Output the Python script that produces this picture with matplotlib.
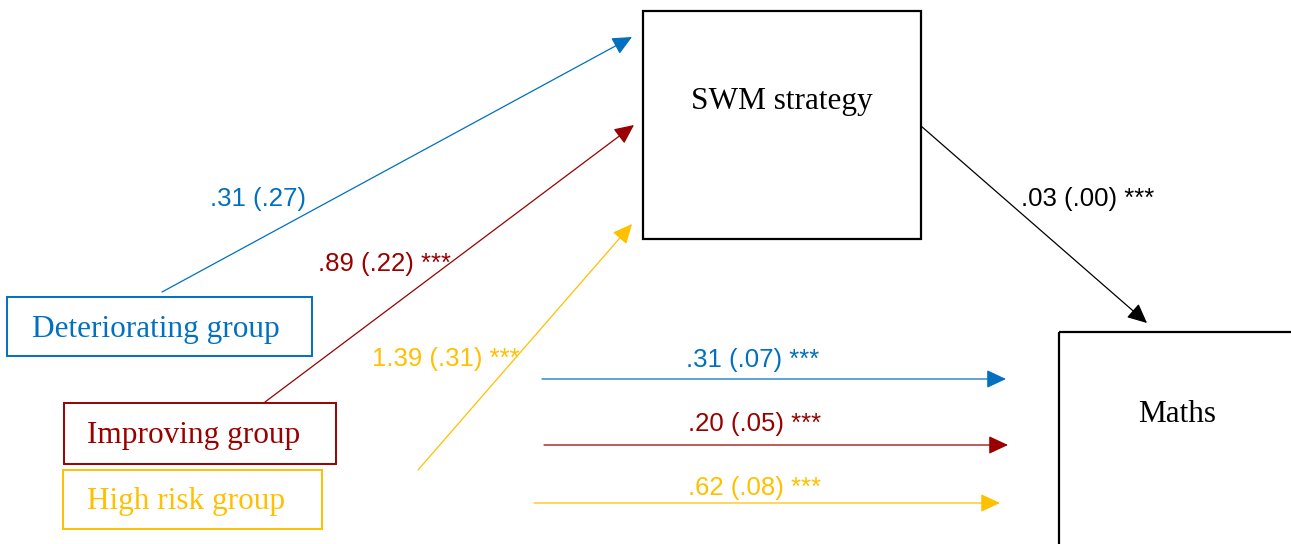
import matplotlib
matplotlib.use("Agg")
import matplotlib.pyplot as plt
from matplotlib.patches import Rectangle

# ── Path model values ──────────────────────────────────────────────────────
groups = ["Deteriorating group", "Improving group", "High risk group"]
colors = ["#0070C0", "#990000", "#FFC000"]

# group -> SWM strategy (a paths)
a_coef = [0.31, 0.89, 1.39]
a_se = [0.27, 0.22, 0.31]
a_sig = ["", "***", "***"]

# group -> Maths (direct paths)
c_coef = [0.31, 0.20, 0.62]
c_se = [0.07, 0.05, 0.08]
c_sig = ["***", "***", "***"]

# SWM strategy -> Maths (b path)
b_coef = 0.03
b_se = 0.00
b_sig = "***"


def fmt(v):
    s = f"{v:.2f}"
    return s[1:] if s.startswith("0") else s


def label(coef, se, sig):
    txt = f"{fmt(coef)} ({fmt(se)})"
    return f"{txt} {sig}" if sig else txt


SERIF = ["Liberation Serif", "DejaVu Serif"]
SANS = ["Liberation Sans", "DejaVu Sans"]
serif_fs = 22.5
sans_fs = 18.5

fig = plt.figure(figsize=(12.91, 5.44), dpi=100)
ax = fig.add_axes([0, 0, 1, 1])
ax.set_xlim(0, 1291)
ax.set_ylim(544, 0)
ax.axis("off")


def box(x0, y0, x1, y1, color, text, tx, ty, lw=1.6):
    ax.add_patch(Rectangle((x0, y0), x1 - x0, y1 - y0, fill=False,
                           edgecolor=color, lw=lw, clip_on=True))
    ax.text(tx, ty, text, color=color, family=SERIF, fontsize=serif_fs,
            ha="center", va="center")


def arrow(p0, p1, color):
    ax.annotate("", xy=p1, xytext=p0,
                arrowprops=dict(arrowstyle="-|>,head_length=0.6,head_width=0.28",
                                mutation_scale=20, color=color, lw=0.9,
                                shrinkA=0, shrinkB=0))


# boxes
box(643, 11, 921, 239, "black", "SWM strategy", 782, 101)
box(1059, 332, 1320, 580, "black", "Maths", 1177, 415)
group_boxes = [(7, 297, 312, 356), (64, 403, 336, 464), (63, 470, 322, 529)]
group_text = [(156, 329), (194, 436), (186, 501)]
for g, c, b, t in zip(groups, colors, group_boxes, group_text):
    box(*b, c, g, *t, lw=1.4)

# group -> SWM strategy
a_start = [(162, 292), (265, 402), (418, 470)]
a_end = [(632, 37), (634, 125), (632, 224)]
a_lab = [(258, 199), (384, 264), (446, 359)]
for i in range(3):
    arrow(a_start[i], a_end[i], colors[i])
    ax.text(*a_lab[i], label(a_coef[i], a_se[i], a_sig[i]), color=colors[i],
            family=SANS, fontsize=sans_fs, ha="center", va="center")

# group -> Maths
c_start = [(542, 379), (544, 445), (534, 503)]
c_end = [(1006, 379), (1008, 445), (1000, 503)]
c_lab = [(753, 360), (755, 424), (755, 488)]
for i in range(3):
    arrow(c_start[i], c_end[i], colors[i])
    ax.text(*c_lab[i], label(c_coef[i], c_se[i], c_sig[i]), color=colors[i],
            family=SANS, fontsize=sans_fs, ha="center", va="center")

# SWM strategy -> Maths
arrow((921, 126), (1147, 323), "black")
ax.text(1088, 199, label(b_coef, b_se, b_sig), color="black",
        family=SANS, fontsize=sans_fs, ha="center", va="center")

fig.savefig("out.png", dpi=100)
